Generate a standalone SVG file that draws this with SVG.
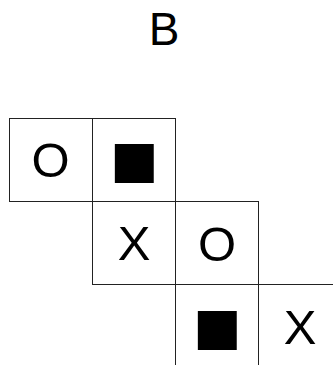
<svg xmlns="http://www.w3.org/2000/svg" width="333" height="365" viewBox="0 0 333 365">
<style>
.cell{fill:#fff;stroke:#222;stroke-width:1}
.t{font-family:"Liberation Sans",Arial,sans-serif;font-size:49px;fill:#000;text-anchor:middle}
.sq{font-family:"DejaVu Sans",sans-serif;font-size:51px;fill:#000;text-anchor:middle}
</style>
<rect width="333" height="365" fill="#fff"/>
<g id="title"><text class="t" x="164" y="45" style="font-size:46px">B</text></g>
<g id="c1"><rect class="cell" x="9.5" y="118.5" width="83" height="83"/><text class="t" x="50.5" y="176.5">O</text></g>
<g id="c2"><rect class="cell" x="92.5" y="118.5" width="83" height="83"/><text class="sq" x="134" y="177">■</text></g>
<g id="c3"><rect class="cell" x="92.5" y="201.5" width="83" height="83"/><text class="t" x="134" y="260">X</text></g>
<g id="c4"><rect class="cell" x="175.5" y="201.5" width="83" height="83"/><text class="t" x="217" y="260.5">O</text></g>
<g id="c5"><rect class="cell" x="175.5" y="284.5" width="83" height="83"/><text class="sq" x="217" y="343.5">■</text></g>
<g id="c6"><rect class="cell" x="258.5" y="284.5" width="83" height="83"/><text class="t" x="300" y="344">X</text></g>
<g id="connectors"></g>
</svg>
